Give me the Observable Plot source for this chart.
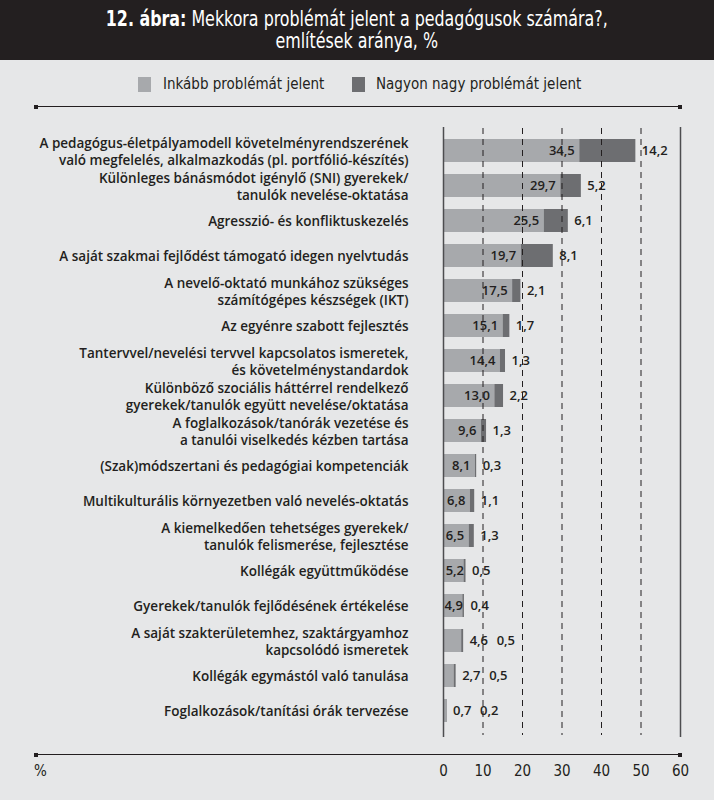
<!DOCTYPE html>
<html><head><meta charset="utf-8">
<script src="https://cdn.jsdelivr.net/npm/d3@7"></script>
<script src="https://cdn.jsdelivr.net/npm/@observablehq/plot@0.6"></script>
<style>
body{margin:0;width:714px;height:805px;background:#fff;position:relative;overflow:hidden}
#panel{position:absolute;left:0;top:0;width:714px;height:800px;background:#e6e7e8}
#title{position:absolute;left:0;top:0;width:714px;height:60px;background:#231f20;color:#fff;text-align:center;
 font-family:"Liberation Sans Narrow","DejaVu Sans Condensed",sans-serif;font-size:21px;line-height:22px;padding-top:8px;box-sizing:border-box}
#title span{display:inline-block;transform:scaleX(0.84);transform-origin:center}
#title b{font-weight:bold}
.leg{position:absolute;top:76px;font-family:"Liberation Sans Narrow","DejaVu Sans Condensed",sans-serif;font-size:15px;color:#231f20;line-height:16px}
.sw{position:absolute;top:77px;width:13px;height:15px}
.hline{position:absolute;left:35px;width:645px;height:0;border-top:1.5px solid #231f20}
.cap{position:absolute;width:4px;height:4px;background:#231f20}
#pct{position:absolute;left:34px;top:762px;font-family:"Liberation Sans Narrow","DejaVu Sans Condensed",sans-serif;font-size:15px;color:#231f20}
#chart{position:absolute;left:0;top:110px}
</style></head>
<body>
<div id="panel"></div>
<div id="title"><span><b>12. ábra:</b> Mekkora problémát jelent a pedagógusok számára?,<br>említések aránya, %</span></div>
<div class="sw" style="left:138px;background:#a7a9ac"></div>
<div class="leg" id="leg1" style="left:163px"></div>
<div class="sw" style="left:352px;background:#6d6e71"></div>
<div class="leg" id="leg2" style="left:376px"></div>
<div class="hline" style="top:106px"></div>
<div class="cap" style="left:34px;top:105px"></div><div class="cap" style="left:678px;top:105px"></div>
<div class="hline" style="top:754px"></div>
<div class="cap" style="left:34px;top:753px"></div><div class="cap" style="left:678px;top:753px"></div>
<div id="pct">%</div>
<div id="chart"></div>
<script>
const categories = [
  "A pedagógus-életpályamodell követelményrendszerének\nvaló megfelelés, alkalmazkodás (pl. portfólió-készítés)",
  "Különleges bánásmódot igénylő (SNI) gyerekek/\ntanulók nevelése-oktatása",
  "Agresszió- és konfliktuskezelés",
  "A saját szakmai fejlődést támogató idegen nyelvtudás",
  "A nevelő-oktató munkához szükséges\nszámítógépes készségek (IKT)",
  "Az egyénre szabott fejlesztés",
  "Tantervvel/nevelési tervvel kapcsolatos ismeretek,\nés követelménystandardok",
  "Különböző szociális háttérrel rendelkező\ngyerekek/tanulók együtt nevelése/oktatása",
  "A foglalkozások/tanórák vezetése és\na tanulói viselkedés kézben tartása",
  "(Szak)módszertani és pedagógiai kompetenciák",
  "Multikulturális környezetben való nevelés-oktatás",
  "A kiemelkedően tehetséges gyerekek/\ntanulók felismerése, fejlesztése",
  "Kollégák együttműködése",
  "Gyerekek/tanulók fejlődésének értékelése",
  "A saját szakterületemhez, szaktárgyamhoz\nkapcsolódó ismeretek",
  "Kollégák egymástól való tanulása",
  "Foglalkozások/tanítási órák tervezése"
];
const inkabb = [34.5, 29.7, 25.5, 19.7, 17.5, 15.1, 14.4, 13.0, 9.6, 8.1, 6.8, 6.5, 5.2, 4.9, 4.6, 2.7, 0.7];
const nagyon = [14.2, 5.2, 6.1, 8.1, 2.1, 1.7, 1.3, 2.2, 1.3, 0.3, 1.1, 1.3, 0.5, 0.4, 0.5, 0.5, 0.2];
const seriesNames = ["Inkább problémát jelent", "Nagyon nagy problémát jelent"];
const xTicks = [0, 10, 20, 30, 40, 50, 60];

document.getElementById("leg1").textContent = seriesNames[0];
document.getElementById("leg2").textContent = seriesNames[1];

const tidy = [];
categories.forEach((c, i) => {
  tidy.push({cat: c, series: seriesNames[0], value: inkabb[i]});
  tidy.push({cat: c, series: seriesNames[1], value: nagyon[i]});
});
const rows = categories.map((c, i) => ({cat: c, a: inkabb[i], b: nagyon[i], t: inkabb[i] + nagyon[i]}));
const fmt = v => v.toFixed(1).replace(".", ",");
const sans = '"Open Sans", sans-serif';
const narrow = '"Liberation Sans Narrow", "DejaVu Sans Condensed", sans-serif';
const ink = "#231f20";

const big = rows.filter(d => d.a >= 6);
const mid = rows.filter(d => d.a >= 4.7 && d.a < 6);
const small = rows.filter(d => d.a < 4.7);
const inside = rows.filter(d => d.a >= 4.7);

const chart = Plot.plot({
  width: 714, height: 690,
  marginLeft: 443, marginRight: 34, marginTop: 9, marginBottom: 57,
  style: {background: "transparent", fontFamily: sans, color: ink, overflow: "visible"},
  x: {domain: [0, 60]},
  y: {domain: categories, padding: 0.34},
  color: {domain: seriesNames, range: ["#a7a9ac", "#6d6e71"]},
  marks: [
    Plot.barX(tidy, Plot.stackX({y: "cat", x: "value", fill: "series", order: seriesNames})),
    Plot.ruleX(xTicks.filter(t => t > 0 && t < 60), {stroke: ink, strokeWidth: 1, strokeDasharray: "6,5", insetTop: 9, insetBottom: 8}),
    Plot.ruleX([0, 60], {stroke: "#4d4d4f", strokeWidth: 1.5, insetTop: 8, insetBottom: 6}),
    Plot.axisY({tickSize: 0, tickPadding: 35, fontSize: 13.5, fontWeight: 600, lineHeight: 1.25, fill: ink, label: null}),
    Plot.axisX({ticks: xTicks, tickSize: 0, tickPadding: 22, tickFormat: d => String(d), fontSize: 15, fontFamily: narrow, fill: ink, label: null}),
    Plot.text(big, {y: "cat", x: "a", text: d => fmt(d.a), textAnchor: "end", dx: -5, fontSize: 13, fontWeight: 600, fill: ink}),
    Plot.text(mid, {y: "cat", x: "a", text: d => fmt(d.a), textAnchor: "end", dx: 0, fontSize: 13, fontWeight: 600, fill: ink}),
    Plot.text(small, {y: "cat", x: "t", text: d => fmt(d.a), textAnchor: "start", dx: 6, fontSize: 13, fontWeight: 600, fill: ink}),
    Plot.text(inside, {y: "cat", x: "t", text: d => fmt(d.b), textAnchor: "start", dx: 6, fontSize: 13, fontWeight: 600, fill: ink}),
    Plot.text(small, {y: "cat", x: "t", text: d => fmt(d.b), textAnchor: "start", dx: 33, fontSize: 13, fontWeight: 600, fill: ink})
  ]
});
document.getElementById("chart").appendChild(chart);
</script>
</body></html>
